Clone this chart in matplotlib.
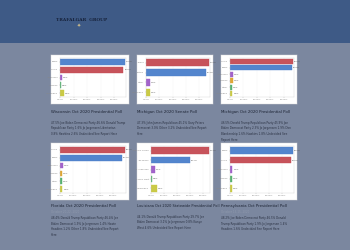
import matplotlib.pyplot as plt
from matplotlib.patches import Rectangle

# page colours
header_col = "#3e5a86"
page_col = "#7b879f"

BLUE = "#4a7fcb"
RED = "#c44a52"
PURPLE = "#9d5bc8"
GREEN = "#4fae6a"
YELLOW = "#c8c83c"
ORANGE = "#dea22c"

# ---- poll data ----
titles = [
    "Wisconsin Oct 2020 Presidential Poll",
    "Michigan Oct 2020 Senate Poll",
    "Michigan Oct 2020 Presidential Poll",
    "Florida Oct 2020 Presidential Poll",
    "Louisiana Oct 2020 Statewide Presidential Poll",
    "Pennsylvania Oct Presidential Poll",
]
subtitles = ["", "", "", "October 20-22, 2020", "", "October 13-15, 2020"]

wi_names = ["Biden", "Trump", "Jorgensen", "Hawkins", "Undecided"]
wi_vals = [47.5, 46.6, 1.6, 0.8, 2.6]
wi_cols = [BLUE, RED, PURPLE, GREEN, YELLOW]

mis_names = ["James", "Peters", "Other", "Undecided"]
mis_vals = [47.3, 45.1, 3.0, 3.2]
mis_cols = [RED, BLUE, PURPLE, YELLOW]

mip_names = ["Trump", "Biden", "Jorgensen", "Hawkins", "Other", "Undecided"]
mip_vals = [46.5, 45.9, 2.3, 1.9, 1.6, 1.8]
mip_cols = [RED, BLUE, PURPLE, ORANGE, GREEN, YELLOW]

fl_names = ["Trump", "Biden", "Jorgensen", "Hawkins", "Other", "Undecided"]
fl_vals = [48.4, 46.4, 1.9, 1.4, 1.2, 1.8]
fl_cols = [RED, BLUE, PURPLE, ORANGE, GREEN, YELLOW]

la_names = ["Donald Trump", "Joe Biden", "Jo Jorgensen", "Kanye West", "Undecided"]
la_vals = [44.1, 29.7, 3.1, 0.8, 4.6]
la_cols = [RED, BLUE, PURPLE, GREEN, YELLOW]

pa_names = ["Biden", "Trump", "Jorgensen", "Hawkins", "Undecided"]
pa_vals = [48.2, 46.5, 1.9, 1.4, 1.6]
pa_cols = [BLUE, RED, PURPLE, GREEN, YELLOW]

descriptions = [
    ["47.5% Joe Biden Democrat Party 46.6% Donald Trump",
     "Republican Party 1.6% Jo Jorgensen Libertarian",
     "0.8% Hawkins 2.6% Undecided See Report Here"],
    ["47.3% John James Republican 45.1% Gary Peters",
     "Democrat 3.0% Other 3.2% Undecided See Report",
     "Here"],
    ["46.5% Donald Trump Republican Party 45.9% Joe",
     "Biden Democrat Party 2.3% Jo Jorgensen 1.9% Don",
     "Blankenship 1.6% Hawkins 1.8% Undecided See",
     "Report Here"],
    ["48.4% Donald Trump Republican Party 46.4% Joe",
     "Biden Democrat 1.9% Jo Jorgensen 1.4% Howie",
     "Hawkins 1.2% Other 1.8% Undecided See Report",
     "Here"],
    ["44.1% Donald Trump Republican Party 29.7% Joe",
     "Biden Democrat 3.1% Jo Jorgensen 0.8% Kanye",
     "West 4.6% Undecided See Report Here"],
    ["48.2% Joe Biden Democrat Party 46.5% Donald",
     "Trump Republican Party 1.9% Jo Jorgensen 1.4%",
     "Hawkins 1.6% Undecided See Report Here"],
]

polls = [
    (wi_names, wi_vals, wi_cols),
    (mis_names, mis_vals, mis_cols),
    (mip_names, mip_vals, mip_cols),
    (fl_names, fl_vals, fl_cols),
    (la_names, la_vals, la_cols),
    (pa_names, pa_vals, pa_cols),
]

W, H = 350, 250
fig = plt.figure(figsize=(3.5, 2.5), dpi=100)
fig.patch.set_facecolor(page_col)


def box(x0, y0, x1, y1):
    # pixel box (top origin) -> figure fraction rect
    return [x0 / W, 1 - y1 / H, (x1 - x0) / W, (y1 - y0) / H]


# header band
fig.patches.append(Rectangle((0, 1 - 43 / H), 1, 43 / H, transform=fig.transFigure,
                             facecolor=header_col, edgecolor="none", zorder=0))
fig.text(82 / W, 1 - 20 / H, "TRAFALGAR  GROUP", fontsize=3.2, family="DejaVu Serif",
         color="#17233c", ha="center", va="center", weight="bold")
fig.text(79 / W, 1 - 26.5 / H, "\u2726", fontsize=3.5, color="#c9b98a",
         ha="center", va="center")

cols_x = [(51, 129), (137, 213), (221, 297)]
rows_y = [(55, 104, 112), (143, 200, 206)]

for i, (names, vals, colors) in enumerate(polls):
    r, c = divmod(i, 3)
    x0, x1 = cols_x[c]
    y0, y1, ty = rows_y[r]

    panel = fig.add_axes(box(x0, y0, x1, y1))
    panel.set_facecolor("white")
    panel.set_xticks([])
    panel.set_yticks([])
    for s in panel.spines.values():
        s.set_color("#dddddd")
        s.set_linewidth(0.3)

    lab_w = 14 if r == 1 and c == 1 else 9
    ax = fig.add_axes(box(x0 + lab_w, y0 + 3, x1 - 3, y1 - 7))
    ypos = list(range(len(names)))
    ax.barh(ypos, vals, height=0.72, color=colors, edgecolor=colors, linewidth=0.3,
            alpha=0.95)
    vmax = max(vals)
    ax.set_xlim(0, vmax * 1.02)
    ax.set_ylim(len(names) - 0.5, -0.5)
    ax.set_yticks(ypos)
    ax.set_yticklabels(names, fontsize=1.6, color="#555555")
    ticks = [0, 10, 20, 30, 40]
    ax.set_xticks(ticks)
    ax.set_xticklabels(["%.2f%%" % t for t in ticks], fontsize=1.6, color="#555555")
    ax.tick_params(length=0.8, width=0.2, pad=0.8, colors="#888888")
    for s in ax.spines.values():
        s.set_color("#cccccc")
        s.set_linewidth(0.25)
    ax.grid(axis="x", color="#eeeeee", linewidth=0.2)
    ax.set_axisbelow(True)
    for yp, v in zip(ypos, vals):
        ax.text(v + vmax * 0.015, yp, "%.1f%%" % v, fontsize=1.5, color="#555555",
                va="center", ha="left", clip_on=False)

    fig.text(x0 / W, 1 - ty / H, titles[i], fontsize=2.75 if i != 4 else 2.5,
             color="#1c2333", ha="left", va="center")
    ly = ty + 6
    if subtitles[i]:
        fig.text(x0 / W, 1 - ly / H, subtitles[i], fontsize=2.0, color="#8f99ad",
                 ha="left", va="center")
        ly += 6
    else:
        ly += 5
    for line in descriptions[i]:
        fig.text(x0 / W, 1 - ly / H, line, fontsize=2.0, color="#2a3142",
                 ha="left", va="center")
        ly += 5.5

fig.savefig("out.png", dpi=100, facecolor=fig.get_facecolor())
